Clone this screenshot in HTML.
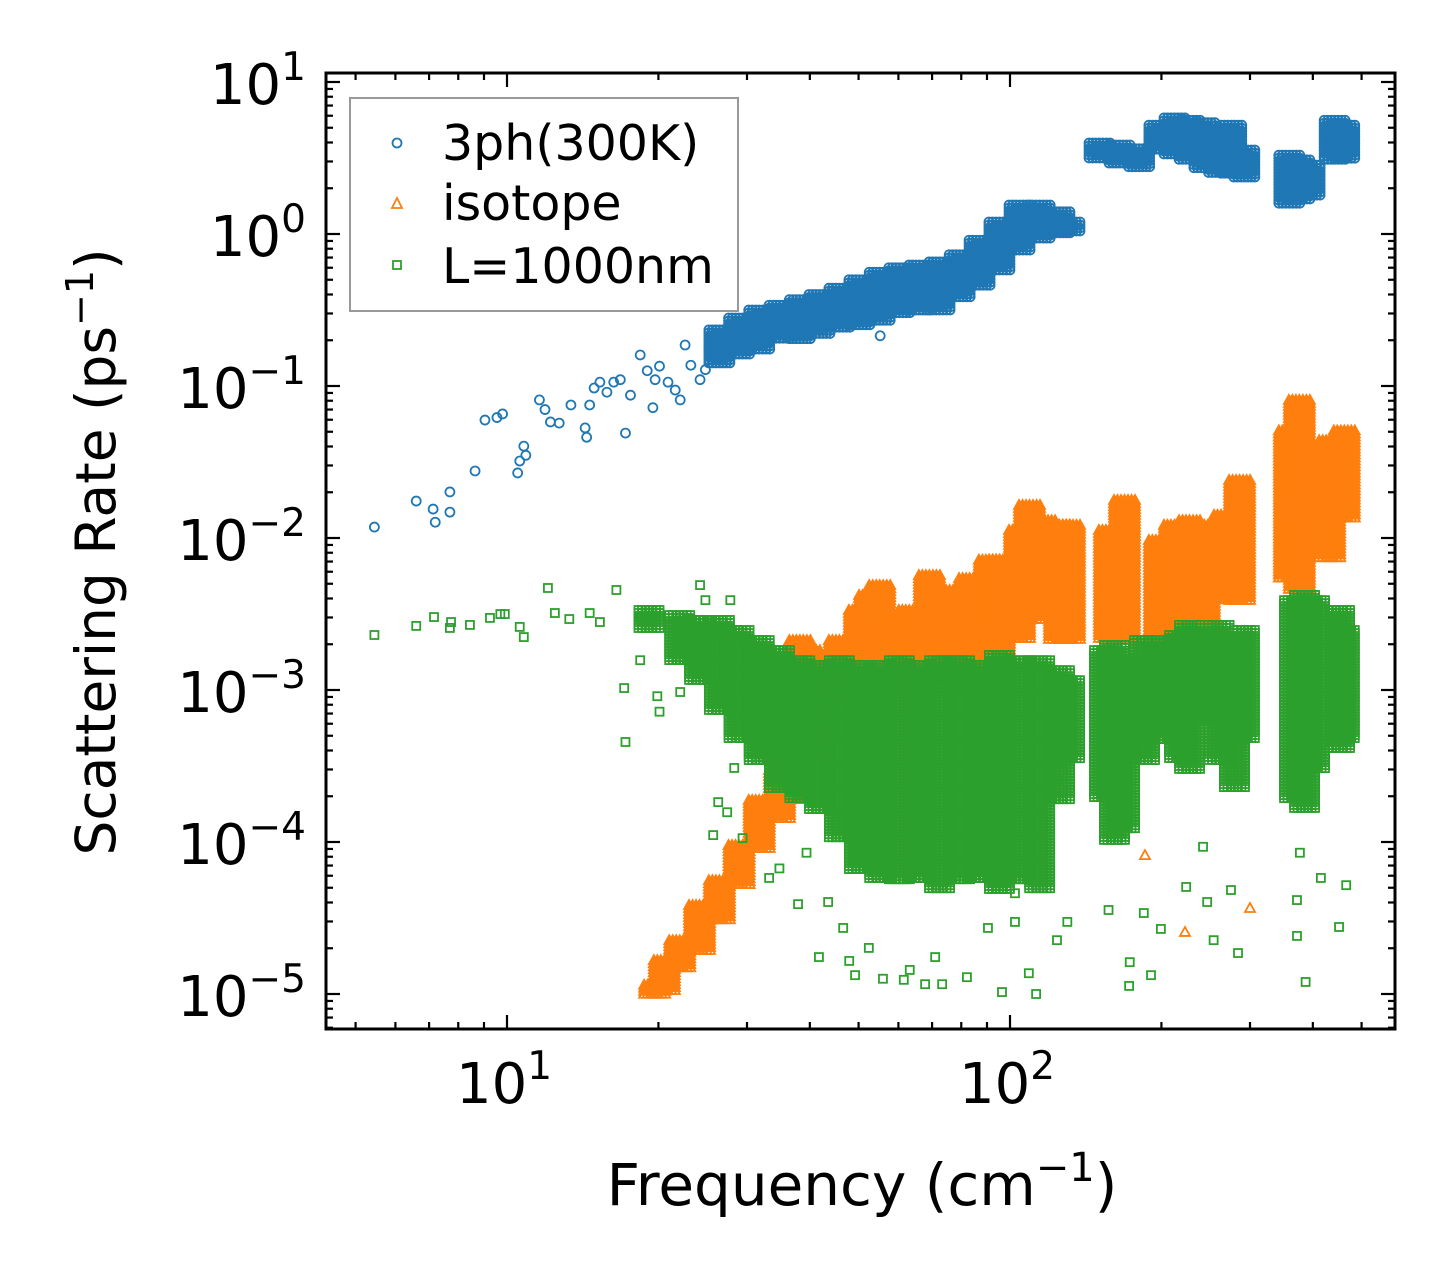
<!DOCTYPE html>
<html><head><meta charset="utf-8"><style>
html,body{margin:0;padding:0;background:#fff;}
svg{display:block;font-family:"DejaVu Sans","Liberation Sans",sans-serif;}
</style></head><body>
<svg id="chart" width="1455" height="1279" viewBox="0 0 1455 1279" xmlns="http://www.w3.org/2000/svg">
<rect width="1455" height="1279" fill="#fff"/>
<g id="marks"></g>
<g id="axes"></g>
<text x="862" y="1205" font-size="58" text-anchor="middle">Frequency (cm<tspan dy="-24" font-size="40">−1</tspan><tspan dy="24">)</tspan></text>
<text transform="translate(115,552) rotate(-90)" font-size="55" text-anchor="middle">Scattering Rate (ps<tspan dy="-22" font-size="38">−1</tspan><tspan dy="22">)</tspan></text>
<g>
<rect x="350" y="98" width="388" height="213" fill="#fff" stroke="#999" stroke-width="2"/>
<circle cx="397" cy="143" r="4.5" fill="none" stroke="#1f77b4" stroke-width="1.8"/>
<text x="442" y="160" font-size="49">3ph(300K)</text>
<polygon points="397,198 402,208 392,208" fill="none" stroke="#ff7f0e" stroke-width="1.8"/>
<text x="442" y="220" font-size="49">isotope</text>
<rect x="393" y="261" width="8" height="8" fill="none" stroke="#2ca02c" stroke-width="1.8"/>
<text x="442" y="283" font-size="49">L=1000nm</text>
</g>
</svg>
<script>
// ---- data ----
const xTickValues=[10,100];
const xTickLabels=["1","2"];
const yTickValues=[10,1,0.1,0.01,0.001,0.0001,0.00001];
const yTickLabels=["1","0","−1","−2","−3","−4","−5"];
// 3ph scattered points [freq, rate]
const blueFreq=[5.45,6.6,7.13,7.2,7.7,7.7,8.64,9.04,9.55,9.8,10.5,10.6,10.8,10.9,11.6,11.9,12.2,12.7,13.4,14.3,14.4,14.6,14.9,15.3,15.8,16.3,17.2,16.8,17.6,18.4,19.0,19.5,19.7,20.1,20.9,22.1,22.6,24.2,24.8,23.2,21.6,41.9,55.2];
const blueRate=[0.0118,0.0175,0.0155,0.0127,0.0201,0.0148,0.0276,0.0597,0.062,0.0655,0.0268,0.0321,0.0402,0.035,0.081,0.07,0.058,0.057,0.075,0.053,0.046,0.075,0.097,0.106,0.091,0.106,0.049,0.11,0.087,0.16,0.126,0.072,0.11,0.135,0.106,0.081,0.186,0.11,0.128,0.137,0.094,0.24,0.214];
// 3ph dense bands [freq, high, low]
const blueBandFreq=[26.5,29,31.8,34.9,38.3,41.9,45.9,50.3,55.2,60.4,66.2,72.6,79.6,87.2,95.5,104.7,114.8,125.7,131.6,151,165.5,181,198.6,212.8,228,244,261,276,293,360,377,395,443,463];
const blueBandHigh=[0.234,0.28,0.316,0.34,0.37,0.40,0.44,0.5,0.56,0.6,0.625,0.655,0.73,0.91,1.2,1.55,1.55,1.4,1.2,3.97,3.85,3.64,5.2,5.8,5.6,5.4,4.8,5.2,3.57,3.3,3.07,2.84,5.6,5.2];
const blueBandLow=[0.137,0.16,0.172,0.2,0.2,0.217,0.234,0.252,0.264,0.293,0.307,0.316,0.37,0.46,0.58,0.785,0.91,0.985,1.03,3.07,2.84,2.74,3.57,3.3,3.07,2.64,2.44,2.44,2.27,1.55,1.67,1.8,3.07,3.07];
// isotope
const orangeFreq=[185.5,222.8,300,376];
const orangeRate=[8.2e-5,2.56e-5,3.68e-5,6.0e-4];
const orangeBandFreq=[19.7,20.6,22.1,24.2,26.5,29,31.8,34.9,36.5,38.3,40,42.9,45.9,50.3,52.7,55.2,57.7,63.2,69.3,76,83.3,91.2,95.5,104.7,109.6,117.4,125.7,131.6,158,169.3,198.6,212.8,228,244,267.6,286.7,360,377,433,463];
const orangeBandHigh=[1.15e-5,1.67e-5,2.26e-5,3.85e-5,5.6e-5,9.55e-5,1.89e-4,2.98e-4,5.45e-4,2.13e-3,1.83e-3,1.57e-3,2.13e-3,3.36e-3,4.22e-3,4.9e-3,2.89e-3,3.36e-3,5.7e-3,4.55e-3,5.45e-3,7.2e-3,7.2e-3,1.13e-2,1.65e-2,1.31e-2,1.22e-2,1.22e-2,1.13e-2,1.78e-2,9.7e-3,1.22e-2,1.31e-2,1.22e-2,1.42e-2,2.41e-2,5.1e-2,8.1e-2,4.4e-2,5.1e-2];
const orangeBandLow=[9.85e-6,1.06e-5,1.44e-5,1.95e-5,3.07e-5,5.2e-5,8.9e-5,1.4e-4,1.89e-4,2.2e-4,3.46e-4,4.69e-4,8.6e-4,1.0e-3,1.0e-3,1.0e-3,1.0e-3,1.16e-3,1.16e-3,1.16e-3,1.16e-3,1.16e-3,1.16e-3,2.13e-3,2.89e-3,3.36e-3,2.13e-3,2.13e-3,2.13e-3,2.13e-3,2.13e-3,2.13e-3,1.57e-3,1.83e-3,3.9e-3,3.9e-3,5.3e-3,4.55e-3,7.2e-3,1.31e-2];
// boundary L=1000nm
const greenFreq=[5.45,6.6,7.16,7.7,7.74,8.44,9.25,9.7,9.9,10.6,10.8,12.06,12.45,13.3,14.6,15.3,16.5,17.1,18.4,19.9,20.1,21.1,22.1,24.2,24.8,25.9,27.8,18.4,22.6,29.7,31.8,
25.7,29.4,33.2,37.9,41.7,47.9,49.2,55.9,63.2,67.8,73.3,82.1,96.4,112.7,109,173,172.5,190.7,199.5,224,246.6,284,387,372,466,451,184.5,130,102.3,90.4,71,61.5,52.4,46.6,43.5,39.4,34.8,17.2,28.3,27.4,26.3,102.3,124,157,275,254,242,372,415,377];
const greenRate=[2.3e-3,2.64e-3,3.02e-3,2.56e-3,2.8e-3,2.68e-3,2.98e-3,3.16e-3,3.16e-3,2.6e-3,2.23e-3,4.69e-3,3.21e-3,2.93e-3,3.21e-3,2.8e-3,4.55e-3,1.03e-3,3.02e-3,9.1e-4,7.2e-4,2.68e-3,9.7e-4,4.9e-3,3.9e-3,2.3e-3,3.9e-3,1.57e-3,2.13e-3,1.0e-3,8.0e-4,
1.11e-4,1.06e-4,5.8e-5,3.9e-5,1.75e-5,1.65e-5,1.33e-5,1.26e-5,1.44e-5,1.16e-5,1.16e-5,1.29e-5,1.03e-5,1.0e-5,1.37e-5,1.62e-5,1.13e-5,1.33e-5,2.68e-5,5.06e-5,4.03e-5,1.86e-5,1.2e-5,2.41e-5,5.2e-5,2.76e-5,3.41e-5,2.98e-5,2.98e-5,2.72e-5,1.75e-5,1.24e-5,2.01e-5,2.72e-5,4.03e-5,8.5e-5,6.7e-5,4.55e-4,3.07e-4,1.57e-4,1.83e-4,4.6e-5,2.26e-5,3.57e-5,4.83e-5,2.26e-5,9.3e-5,4.15e-5,5.8e-5,8.5e-5];
const greenBandFreq=[19.2,22.1,24.2,26.5,29,31.8,34.9,38.3,41.9,45.9,50.3,55.2,60.4,66.2,72.6,79.6,87.2,95.5,104.7,114.8,125.7,131.6,154.5,161.7,169.3,185.5,198.6,217.8,228,250,261,280,293,368.7,386,404,453,463];
const greenBandHigh=[3.36e-3,3.11e-3,2.89e-3,2.89e-3,2.48e-3,2.13e-3,1.83e-3,1.57e-3,1.46e-3,1.57e-3,1.46e-3,1.46e-3,1.57e-3,1.46e-3,1.57e-3,1.57e-3,1.46e-3,1.7e-3,1.57e-3,1.57e-3,1.35e-3,1.16e-3,1.83e-3,1.98e-3,1.57e-3,2.13e-3,2.13e-3,2.3e-3,2.68e-3,2.3e-3,2.68e-3,2.13e-3,2.48e-3,3.9e-3,4.22e-3,3.9e-3,3.36e-3,2.48e-3];
const greenBandLow=[2.48e-3,1.57e-3,1.16e-3,7.4e-4,4.69e-4,3.46e-4,2.2e-4,1.89e-4,1.62e-4,1.03e-4,6.5e-5,5.6e-5,5.6e-5,5.6e-5,4.83e-5,5.6e-5,5.6e-5,4.83e-5,5.6e-5,4.83e-5,1.89e-4,3.46e-4,1.89e-4,1.03e-4,1.2e-4,3.46e-4,4.69e-4,3.46e-4,2.98e-4,6.3e-4,3.46e-4,2.2e-4,4.69e-4,1.89e-4,1.62e-4,2.98e-4,4.03e-4,4.69e-4];

// ---- scales ----
const L=326,R=1395,T=73,B=1029;
const X10=507,XDEC=503,Y1=234,YDEC=152;
function xs(f){return X10+XDEC*(Math.log10(f)-1);}
function ys(r){return Y1-YDEC*Math.log10(r);}
const NS="http://www.w3.org/2000/svg";
const marks=document.getElementById('marks');
const axes=document.getElementById('axes');
function mk(tag,attrs,parent){const e=document.createElementNS(NS,tag);for(const k in attrs)e.setAttribute(k,attrs[k]);parent.appendChild(e);return e;}
const clip=mk('clipPath',{id:'pc'},document.getElementById('chart'));
mk('rect',{x:L,y:T,width:R-L,height:B-T},clip);
marks.setAttribute('clip-path','url(#pc)');

function marker(kind,cx,cy,g){
  let e;
  if(kind==='c'){e=mk('circle',{cx:cx,cy:cy,r:4.5,fill:'none',stroke:'#1f77b4','stroke-width':1.8},g);}
  else if(kind==='t'){e=mk('polygon',{points:`${cx},${cy-5} ${cx+5},${cy+4} ${cx-5},${cy+4}`,fill:'none',stroke:'#ff7f0e','stroke-width':1.8},g);}
  else {e=mk('rect',{x:cx-4,y:cy-4,width:8,height:8,fill:'none',stroke:'#2ca02c','stroke-width':1.8},g);}
  return e;
}
function series(kind,name,fr,rt,bf,bh,bl){
  const g=mk('g',{},marks);
  
  
  for(let i=0;i<bf.length;i++){
    const cx=xs(bf[i]),y0=ys(bh[i]),y1=ys(bl[i]);
    for(let dx=-11;dx<=11;dx+=3.5){
      for(let y=y0;y<=y1+0.1;y+=3){
        const m=marker(kind,cx+dx,y,g);
        
        
      }
    }
  }
  for(let i=0;i<fr.length;i++){
    const m=marker(kind,xs(fr[i]),ys(rt[i]),g);
    
    
  }
}
series('c','series-3ph',blueFreq,blueRate,blueBandFreq,blueBandHigh,blueBandLow);
series('t','series-isotope',orangeFreq,orangeRate,orangeBandFreq,orangeBandHigh,orangeBandLow);
series('s','series-boundary',greenFreq,greenRate,greenBandFreq,greenBandHigh,greenBandLow);

// ---- axes ----
mk('rect',{x:L,y:T,width:R-L,height:B-T,fill:'none',stroke:'#000','stroke-width':3},axes);
const tk={stroke:'#000','stroke-width':2.2};
const xmin=Math.pow(10,1+(L-X10)/XDEC),xmax=Math.pow(10,1+(R-X10)/XDEC);
for(let d=0;d<=3;d++){for(let m=1;m<10;m++){const v=m*Math.pow(10,d);if(v<xmin||v>xmax)continue;const x=xs(v);const len=m===1?14:7;
  mk('line',Object.assign({x1:x,x2:x,y1:B,y2:B-len},tk),axes);mk('line',Object.assign({x1:x,x2:x,y1:T,y2:T+len},tk),axes);}}
for(let d=-6;d<=1;d++){for(let m=1;m<10;m++){const v=m*Math.pow(10,d);const y=ys(v);if(y<T||y>B)continue;const len=m===1?14:7;
  mk('line',Object.assign({x1:L,x2:L+len,y1:y,y2:y},tk),axes);mk('line',Object.assign({x1:R,x2:R-len,y1:y,y2:y},tk),axes);}}
xTickValues.forEach((v,i)=>{
  const t=mk('text',{x:xs(v)-3,y:1103,'font-size':56,'text-anchor':'middle'},axes);
  
  
  t.textContent='10';
  const s=mk('tspan',{dy:-24,'font-size':39},t);s.textContent=xTickLabels[i];
});
yTickValues.forEach((v,i)=>{
  const y=ys(v);
  const t=mk('text',{x:306,y:y+22,'font-size':56,'text-anchor':'end'},axes);
  
  
  t.textContent='10';
  const s=mk('tspan',{dy:-24,'font-size':39},t);s.textContent=yTickLabels[i];
});
</script>
</body></html>
